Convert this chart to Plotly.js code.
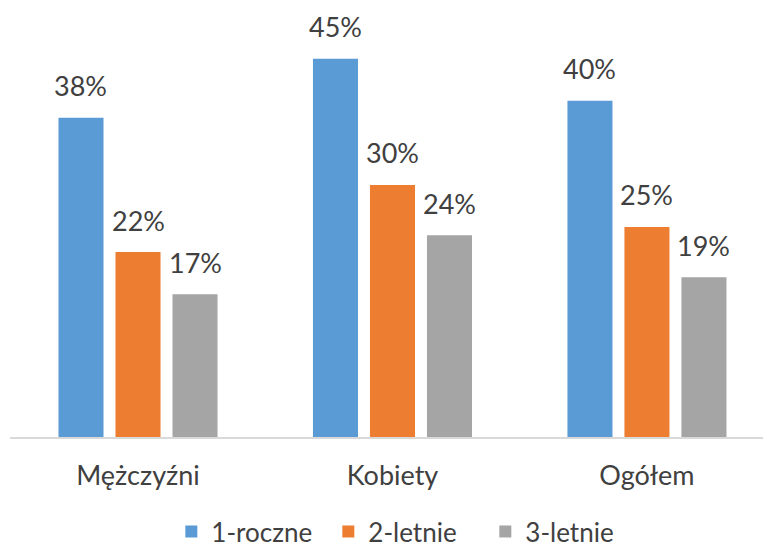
<!DOCTYPE html>
<html>
<head>
<meta charset="utf-8">
<script src="https://cdn.plot.ly/plotly-3.0.1.min.js"></script>
<style>html,body{margin:0;padding:0;background:#fff;}#chart{width:763px;height:552px;}</style>
</head>
<body>
<div id="chart"></div>
<script>
const categories = ["Mężczyźni", "Kobiety", "Ogółem"];
const seriesNames = ["1-roczne", "2-letnie", "3-letnie"];
const values1 = [38, 45, 40];
const values2 = [22, 30, 25];
const values3 = [17, 24, 19];
const labels1 = ["38%", "45%", "40%"];
const labels2 = ["22%", "30%", "25%"];
const labels3 = ["17%", "24%", "19%"];
const colors = ["#5b9bd5", "#ed7d31", "#a5a5a5"];

const allValues = [values1, values2, values3];
const allLabels = [labels1, labels2, labels3];

const W = 763, H = 552;
const margin = {l: 10, r: 0, t: 0, b: 115};
const xRange = [-0.503, 2.456];
const bargap = 0.328;
const plotW = W - margin.l - margin.r;
const pxPerCat = plotW / (xRange[1] - xRange[0]);
const slot = (1 - bargap) * pxPerCat / 3;

const font = "Lato, 'Liberation Sans', sans-serif";
const txtColor = "#404040";

const traces = allValues.map((vals, i) => ({
  type: "bar",
  name: seriesNames[i],
  x: categories,
  y: vals,
  marker: {color: colors[i]},
  hoverinfo: "none"
}));

const annotations = [];
allValues.forEach((vals, i) => {
  vals.forEach((v, j) => {
    annotations.push({
      x: categories[j], y: v, xref: "x", yref: "y",
      text: allLabels[i][j], showarrow: false,
      xanchor: "center", yanchor: "middle",
      xshift: (i - 1) * slot, yshift: 32,
      font: {family: font, size: 27, color: txtColor}
    });
  });
});

const layout = {
  width: W, height: H,
  margin: margin,
  paper_bgcolor: "#fff", plot_bgcolor: "#fff",
  barmode: "group",
  bargap: bargap,
  bargroupgap: 0.21,
  showlegend: true,
  legend: {
    orientation: "h", x: 0.527, xanchor: "center",
    yref: "container", y: 0.037, yanchor: "middle",
    entrywidth: 112, entrywidthmode: "pixels",
    font: {family: font, size: 26, color: txtColor},
    itemclick: false, traceorder: "normal"
  },
  xaxis: {
    type: "category", range: xRange, fixedrange: true,
    showline: true, linecolor: "#d9d9d9", linewidth: 2,
    showgrid: false, zeroline: false, ticks: "",
    ticklabelstandoff: 14,
    tickfont: {family: font, size: 27, color: txtColor}
  },
  yaxis: {
    range: [0, 52], visible: false, showgrid: false, zeroline: false, fixedrange: true
  },
  annotations: annotations
};

Plotly.newPlot("chart", traces, layout, {displayModeBar: false, staticPlot: true});
</script>
</body>
</html>
